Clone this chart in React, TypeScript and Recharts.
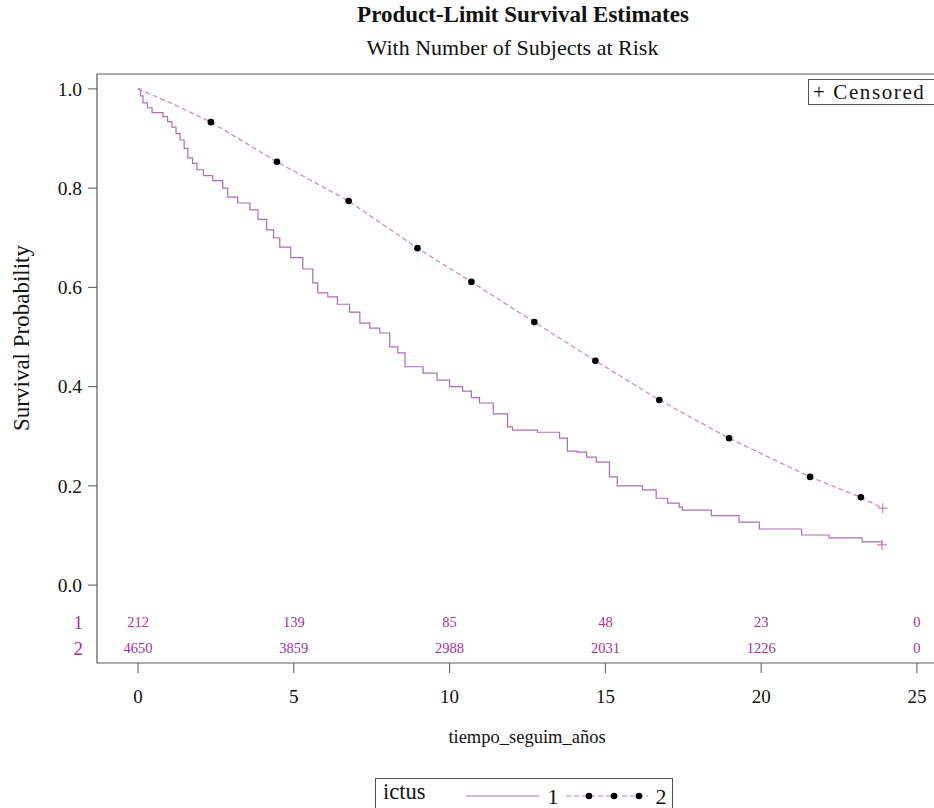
import { ComposedChart, Line, Scatter, XAxis, YAxis, ReferenceArea } from "recharts";

// Kaplan-Meier estimate, ictus = 1 (step function)
const ictus1Time = [
  0, 0.08, 0.16, 0.3, 0.45, 0.8, 0.95, 1.09, 1.22, 1.35, 1.48, 1.6, 1.75, 1.89, 2.1, 2.4,
  2.72, 2.88, 3.2, 3.59, 3.85, 4.13, 4.35, 4.55, 4.9, 5.29, 5.61, 5.77, 6.09, 6.4, 6.79,
  7.12, 7.44, 7.76, 8.08, 8.34, 8.57, 9.15, 9.6, 10.0, 10.42, 10.7, 10.96, 11.4, 11.86,
  12.02, 12.82, 13.53, 13.78, 14.1, 14.4, 14.71, 15.13, 15.38, 16.19, 16.63, 17.0, 17.37,
  17.47, 18.4, 19.29, 19.94, 21.3, 22.18, 23.24, 23.88,
];
const ictus1Surv = [
  1.0, 0.986, 0.972, 0.962, 0.952, 0.944, 0.934, 0.923, 0.91, 0.897, 0.88, 0.861, 0.85,
  0.837, 0.825, 0.815, 0.8, 0.782, 0.77, 0.756, 0.737, 0.716, 0.7, 0.681, 0.66, 0.637,
  0.609, 0.589, 0.581, 0.566, 0.55, 0.528, 0.518, 0.508, 0.48, 0.468, 0.44, 0.427, 0.413,
  0.4, 0.391, 0.378, 0.367, 0.345, 0.319, 0.3125, 0.308, 0.296, 0.27, 0.268, 0.258, 0.248,
  0.218, 0.2, 0.192, 0.175, 0.165, 0.157, 0.151, 0.14, 0.127, 0.113, 0.101, 0.095, 0.087,
  0.081,
];

// ictus = 2 (large group, near-continuous)
const ictus2Time = [0, 1.0, 2.34, 4.46, 6.76, 8.97, 10.7, 12.72, 14.68, 16.73, 18.97, 21.57, 23.2, 23.9];
const ictus2Surv = [1.0, 0.973, 0.933, 0.853, 0.774, 0.679, 0.611, 0.53, 0.452, 0.373, 0.296, 0.218, 0.177, 0.155];

// plot symbols along the ictus = 2 curve
const markTime = [2.34, 4.46, 6.76, 8.97, 10.7, 12.72, 14.68, 16.73, 18.97, 21.57, 23.2];
const markSurv = [0.933, 0.853, 0.774, 0.679, 0.611, 0.53, 0.452, 0.373, 0.296, 0.218, 0.177];

// censored observations (+)
const censorTime = [23.88, 23.9];
const censorSurv = [0.081, 0.155];

// number at risk
const riskTimes = [0, 5, 10, 15, 20, 25];
const riskIctus1 = [212, 139, 85, 48, 23, 0];
const riskIctus2 = [4650, 3859, 2988, 2031, 1226, 0];

const xTicks = [0, 5, 10, 15, 20, 25];
const yTicks = [0, 0.2, 0.4, 0.6, 0.8, 1.0];

const X_DOMAIN: [number, number] = [-1.316, 25.9];
const Y_DOMAIN: [number, number] = [-0.157, 1.03];
const ROW1 = -0.0746;
const ROW2 = -0.127;

const C1 = "#ad6cb8";
const C2 = "#d083b8";
const RISK = "#a8309a";
const FONT = "'Liberation Serif', 'Times New Roman', serif";

const pts = (t: number[], s: number[]) => t.map((v, i) => ({ t: v, s: s[i] }));

const ictus1 = pts(ictus1Time, ictus1Surv);
const ictus2 = pts(ictus2Time, ictus2Surv);
const marks = pts(markTime, markSurv);
const censored = pts(censorTime, censorSurv);
const riskRows = [
  ...riskTimes.map((t, i) => ({ t, s: ROW1, n: riskIctus1[i] })),
  ...riskTimes.map((t, i) => ({ t, s: ROW2, n: riskIctus2[i] })),
];

const YTick = (props: any) => {
  const { x, y, payload } = props;
  const v = payload.value;
  if (v === ROW1 || v === ROW2) {
    return (
      <text x={x + 1} y={y} dy="0.35em" textAnchor="end" fill={RISK} fontSize={19} fontFamily={FONT}>
        {v === ROW1 ? "1" : "2"}
      </text>
    );
  }
  return (
    <g>
      <line x1={x + 6} x2={x + 15} y1={y} y2={y} stroke="#555" />
      <text x={x} y={y} dy="0.35em" textAnchor="end" fill="#111" fontSize={19.5} fontFamily={FONT}>
        {v.toFixed(1)}
      </text>
    </g>
  );
};

const RiskCount = (props: any) => (
  <text x={props.cx} y={props.cy} dy="0.35em" textAnchor="middle" fill={RISK} fontSize={14.5} fontFamily={FONT}>
    {props.payload.n}
  </text>
);

const Dot = (props: any) => <circle cx={props.cx} cy={props.cy} r={3.3} fill="#000" />;

const Cross = (props: any) => (
  <path
    d={`M${props.cx - 5},${props.cy}h10M${props.cx},${props.cy - 5}v10`}
    stroke={C2}
    strokeWidth={1.2}
  />
);

export default function App() {
  return (
    <div
      style={{
        position: "absolute",
        left: 0,
        top: 0,
        width: 934,
        height: 808,
        overflow: "hidden",
        background: "#fff",
        fontFamily: FONT,
        color: "#111",
      }}
    >
      <div style={{ position: "absolute", left: 0, width: 1046, top: 2, textAlign: "center", fontSize: 23, fontWeight: 700 }}>
        Product-Limit Survival Estimates
      </div>
      <div style={{ position: "absolute", left: 0, width: 1025, top: 35, textAlign: "center", fontSize: 22 }}>
        With Number of Subjects at Risk
      </div>

      <ComposedChart width={960} height={808} margin={{ top: 74, right: 15, bottom: 85, left: 0 }}>
        <XAxis
          type="number"
          dataKey="t"
          domain={X_DOMAIN}
          allowDataOverflow
          ticks={xTicks}
          axisLine={false}
          tickSize={10}
          tickMargin={17}
          tickLine={{ stroke: "#555" }}
          tick={{ fill: "#111", fontSize: 19, fontFamily: FONT }}
          height={60}
        />
        <YAxis
          type="number"
          dataKey="s"
          domain={Y_DOMAIN}
          allowDataOverflow
          ticks={[ROW2, ROW1, ...yTicks]}
          axisLine={false}
          tickLine={false}
          tickSize={0}
          tickMargin={15}
          tick={<YTick />}
          width={97}
        />
        <ReferenceArea
          x1={X_DOMAIN[0]}
          x2={X_DOMAIN[1]}
          y1={Y_DOMAIN[0]}
          y2={Y_DOMAIN[1]}
          fill="none"
          stroke="#5a5a5a"
          strokeWidth={1.2}
          ifOverflow="extendDomain"
        />
        <Line
          data={ictus1}
          dataKey="s"
          type="stepAfter"
          stroke={C1}
          strokeWidth={1.2}
          dot={false}
          activeDot={false}
          isAnimationActive={false}
        />
        <Line
          data={ictus2}
          dataKey="s"
          type="linear"
          stroke={C2}
          strokeWidth={1.2}
          strokeDasharray="5 3"
          dot={false}
          activeDot={false}
          isAnimationActive={false}
        />
        <Scatter data={marks} dataKey="s" shape={<Dot />} isAnimationActive={false} />
        <Scatter data={censored} dataKey="s" shape={<Cross />} isAnimationActive={false} />
        <Scatter data={riskRows} dataKey="s" shape={<RiskCount />} isAnimationActive={false} />
      </ComposedChart>

      {/* axis titles */}
      <div
        style={{
          position: "absolute",
          left: 22,
          top: 338,
          transform: "translate(-50%, -50%) rotate(-90deg)",
          whiteSpace: "nowrap",
          fontSize: 23,
        }}
      >
        Survival Probability
      </div>
      <div style={{ position: "absolute", left: 0, width: 1054, top: 727, textAlign: "center", fontSize: 18.5 }}>
        tiempo_seguim_años
      </div>

      {/* censored legend */}
      <div
        style={{
          position: "absolute",
          left: 808,
          top: 79,
          width: 150,
          height: 24,
          border: "1px solid #555",
          fontSize: 21,
          lineHeight: "24px",
          paddingLeft: 4,
          letterSpacing: 1.6,
          whiteSpace: "nowrap",
        }}
      >
        + Censored
      </div>

      {/* group legend */}
      <div
        style={{
          position: "absolute",
          left: 375,
          top: 778,
          width: 298,
          height: 40,
          border: "1px solid #555",
          boxSizing: "border-box",
        }}
      >
        <span style={{ position: "absolute", left: 7, top: 0, fontSize: 22.5 }}>ictus</span>
        <svg width={298} height={30} style={{ position: "absolute", left: 0, top: 0 }}>
          <line x1={90} x2={163} y1={17} y2={17} stroke={C1} strokeWidth={1.2} />
          <text x={177} y={25} fontSize={22} textAnchor="middle" fill="#111" fontFamily={FONT}>1</text>
          <line x1={190} x2={272} y1={17} y2={17} stroke={C2} strokeWidth={1.2} strokeDasharray="5 3" />
          <circle cx={213} cy={17} r={3.3} fill="#000" />
          <circle cx={238} cy={17} r={3.3} fill="#000" />
          <circle cx={263} cy={17} r={3.3} fill="#000" />
          <text x={285} y={25} fontSize={22} textAnchor="middle" fill="#111" fontFamily={FONT}>2</text>
        </svg>
      </div>
    </div>
  );
}
